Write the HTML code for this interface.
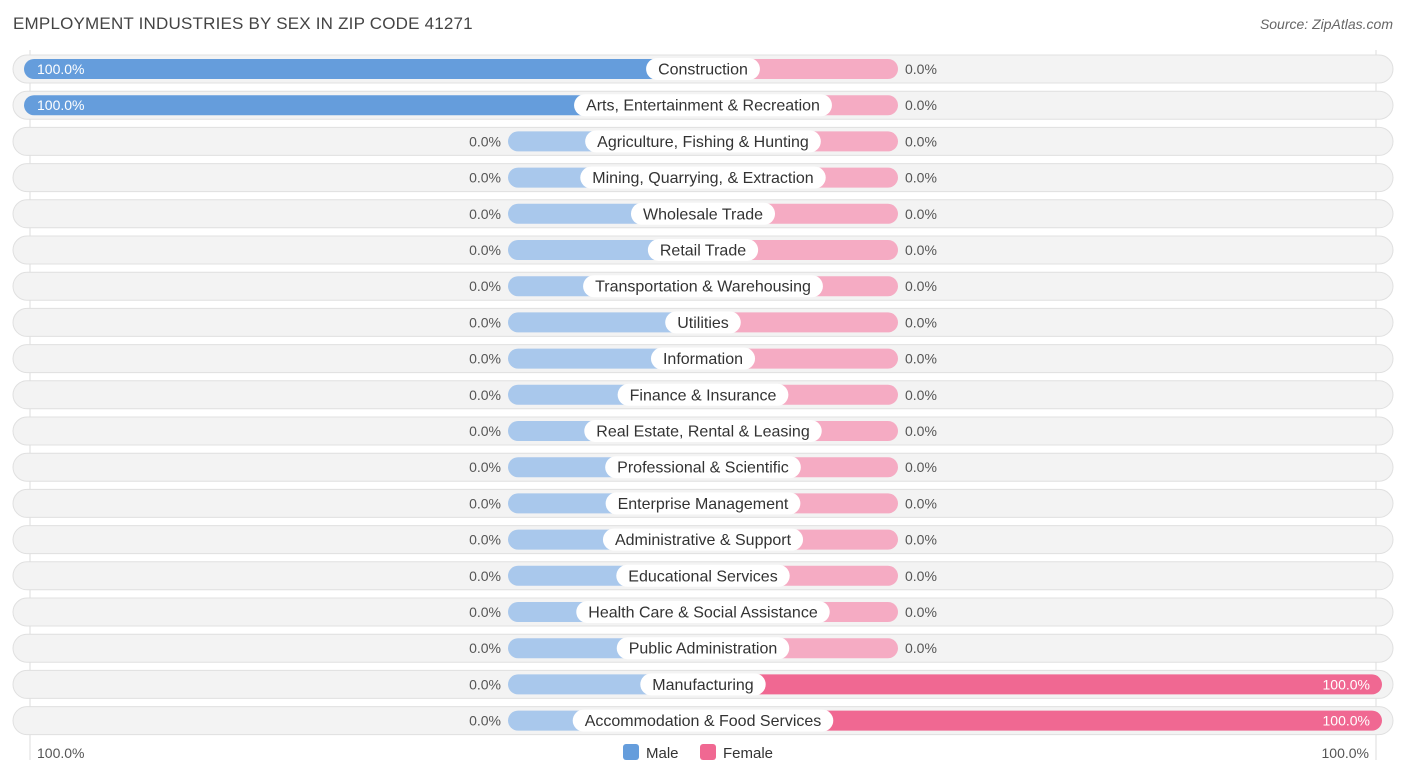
<!DOCTYPE html>
<html><head><meta charset="utf-8">
<style>
body{margin:0;width:1406px;height:777px;background:#fff;font-family:"Liberation Sans",sans-serif;position:relative;overflow:hidden}
#title{position:absolute;left:13px;top:14px;font-size:17px;color:#444;letter-spacing:0.2px}
#source{position:absolute;right:13px;top:16px;font-size:14px;color:#666;font-style:italic}
svg{position:absolute;left:0;top:0}
</style></head>
<body>
<div id="title">EMPLOYMENT INDUSTRIES BY SEX IN ZIP CODE 41271</div>
<div id="source">Source: ZipAtlas.com</div>
<svg id="chart" width="1406" height="777"></svg>
<script>
const categories=["Construction","Arts, Entertainment & Recreation","Agriculture, Fishing & Hunting","Mining, Quarrying, & Extraction","Wholesale Trade","Retail Trade","Transportation & Warehousing","Utilities","Information","Finance & Insurance","Real Estate, Rental & Leasing","Professional & Scientific","Enterprise Management","Administrative & Support","Educational Services","Health Care & Social Assistance","Public Administration","Manufacturing","Accommodation & Food Services"];
const maleValues=[100,100,0,0,0,0,0,0,0,0,0,0,0,0,0,0,0,0,0];
const femaleValues=[0,0,0,0,0,0,0,0,0,0,0,0,0,0,0,0,0,100,100];
const axisLabels=["100.0%","100.0%"];
const NS="http://www.w3.org/2000/svg";
const svg=document.getElementById('chart');
const cx=703,half=679,stub=195,y0=69,step=36.2;
function xs(v){return v/100*half;}
function yRow(i){return y0+i*step;}
function mk(t,a,p){const e=document.createElementNS(NS,t);for(const k in a)e.setAttribute(k,a[k]);(p||svg).appendChild(e);return e;}
mk('line',{x1:30,x2:30,y1:50,y2:760,stroke:'#ddd','stroke-width':1});
mk('line',{x1:1376,x2:1376,y1:50,y2:760,stroke:'#ddd','stroke-width':1});
categories.forEach((c,i)=>{
  const y=yRow(i);
  const g=mk('g',{});
  
  
  const bg=mk('rect',{x:13,y:y-14,width:1380,height:28,rx:14,fill:'#f3f3f3',stroke:'#e0e0e0','stroke-width':1},g);
  
  
  const mv=maleValues[i],fv=femaleValues[i];
  const mw=mv>0?xs(mv):stub, fw=fv>0?xs(fv):stub;
  const mb=mk('rect',{x:cx-mw,y:y-10,width:mw,height:20,rx:10,fill:mv>0?'#659ddc':'#a9c8ec'},g);
  
  
  const fb=mk('rect',{x:cx,y:y-10,width:fw,height:20,rx:10,fill:fv>0?'#f06892':'#f5abc3'},g);
  
  
  const lp=mk('rect',{x:cx,y:y-11,width:10,height:22,rx:11,fill:'#fff'},g);
  
  
  const lt=mk('text',{x:cx,y:y+5.5,'text-anchor':'middle','font-size':16,fill:'#333'},g);
  lt.textContent=c;
  
  
  const tw=lt.getComputedTextLength()+24;
  lp.setAttribute('x',cx-tw/2);lp.setAttribute('width',tw);
  let mt;
  if(mv>0){mt=mk('text',{x:cx-mw+13,y:y+5,'font-size':14,fill:'#fff'},g);}
  else{mt=mk('text',{x:cx-mw-7,y:y+5,'text-anchor':'end','font-size':14,fill:'#555'},g);}
  mt.textContent=mv.toFixed(1)+'%';
  
  
  let ft;
  if(fv>0){ft=mk('text',{x:cx+fw-12,y:y+5,'text-anchor':'end','font-size':14,fill:'#fff'},g);}
  else{ft=mk('text',{x:cx+fw+7,y:y+5,'font-size':14,fill:'#555'},g);}
  ft.textContent=fv.toFixed(1)+'%';
  
  
});
const la=mk('text',{x:37,y:758,'font-size':14,fill:'#555'});la.textContent=axisLabels[0];


const ra=mk('text',{x:1369,y:758,'font-size':14,fill:'#555','text-anchor':'end'});ra.textContent=axisLabels[1];


const lg=mk('g',{});


const l1=mk('rect',{x:623,y:744,width:16,height:16,rx:3,fill:'#659ddc'},lg);


const t1=mk('text',{x:646,y:758,'font-size':15,fill:'#333'},lg);t1.textContent='Male';


const l2=mk('rect',{x:700,y:744,width:16,height:16,rx:3,fill:'#f06892'},lg);


const t2=mk('text',{x:723,y:758,'font-size':15,fill:'#333'},lg);t2.textContent='Female';


</script>
</body></html>
